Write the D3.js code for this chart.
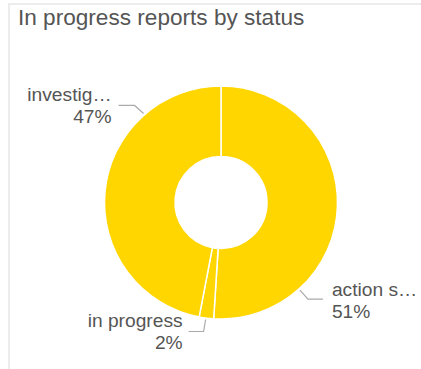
<!DOCTYPE html>
<html>
<head>
<meta charset="utf-8">
<script src="https://cdn.jsdelivr.net/npm/d3@7"></script>
<style>
  html, body { margin: 0; padding: 0; background: #fff; }
  svg { display: block; font-family: Arial, "Liberation Sans", sans-serif; }
</style>
</head>
<body>
<svg id="chart" width="421" height="369"></svg>
<script>
// Report status breakdown
const categories = ["action s\u2026", "in progress", "investig\u2026"];
const values = [51, 2, 47];
const colors = ["#ffd600", "#ffd600", "#ffd600"];

// Leader-line anchor angles (degrees clockwise from 12 o'clock)
const labelAngles = [138, 187.5, 319];

const W = 421, H = 369;
const cx = 221, cy = 202.5, rOuter = 116.5, rInner = 46;

const svg = d3.select("#chart");

// card frame
svg.append("line").attr("x1", 8).attr("x2", W).attr("y1", 4).attr("y2", 4)
  .attr("stroke", "#ececec").attr("stroke-width", 2);
svg.append("line").attr("x1", 9).attr("x2", 9).attr("y1", 4).attr("y2", H)
  .attr("stroke", "#ececec").attr("stroke-width", 2);

svg.append("text").attr("x", 18).attr("y", 25)
  .attr("font-size", 22.6).attr("fill", "#555")
  .text("In progress reports by status");

const pie = d3.pie().sort(null).value(d => d)(values);
const arc = d3.arc().innerRadius(rInner).outerRadius(rOuter);
const total = d3.sum(values);

const g = svg.append("g").attr("transform", `translate(${cx},${cy})`);
g.selectAll("path").data(pie).join("path")
  .attr("d", arc)
  .attr("fill", (d, i) => colors[i])
  .attr("stroke", "#fff")
  .attr("stroke-width", 1.5);

// leader lines and labels
const rAnchor = 118;
pie.forEach((d, i) => {
  const a = labelAngles[i] * Math.PI / 180;
  const ax = Math.sin(a) * rAnchor, ay = -Math.cos(a) * rAnchor;
  const pct = Math.round(d.value / total * 100) + "%";
  let pts, tx, ty, anchor;
  if (i === 0) {
    pts = [[ax, ay], [ax + 8, ay + 9], [ax + 23, ay + 9]];
    tx = ax + 32; ty = ay; anchor = "start";
  } else if (i === 1) {
    pts = [[ax, ay], [ax - 2, ay + 12], [ax - 17, ay + 12]];
    tx = ax - 23; ty = ay + 2; anchor = "end";
  } else {
    pts = [[ax, ay], [ax - 9, ay - 8], [ax - 25, ay - 8]];
    tx = ax - 32; ty = ay - 18; anchor = "end";
  }
  g.append("polyline")
    .attr("points", pts.map(p => p.join(",")).join(" "))
    .attr("fill", "none").attr("stroke", "#aaa").attr("stroke-width", 1.2);
  const t = g.append("text").attr("text-anchor", anchor)
    .attr("font-size", 19.2).attr("fill", "#555");
  t.append("tspan").attr("x", tx).attr("y", ty + 6).text(categories[i]);
  t.append("tspan").attr("x", tx).attr("y", ty + 28).text(pct);
});
</script>
</body>
</html>
